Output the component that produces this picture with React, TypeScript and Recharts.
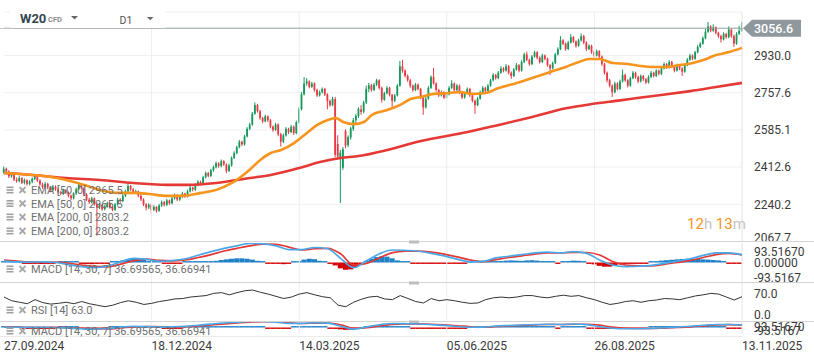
import React from 'react';
import { ComposedChart, Bar, Line, XAxis, YAxis, CartesianGrid, ReferenceLine } from 'recharts';

const FONT = 'Roboto, sans-serif';
const GREEN = '#14995a';
const RED = '#ea3943';

// Daily candles [open, high, low, close]
const ohlc: number[][] = [
[2390,2415,2382,2405],[2405,2410,2382,2392],[2392,2398,2362,2370],[2370,2390,2364,2378],[2378,2382,2348,2355],
[2355,2365,2340,2348],[2348,2372,2342,2362],[2362,2366,2334,2340],[2340,2360,2332,2352],[2352,2356,2326,2335],
[2335,2352,2328,2345],[2345,2365,2338,2358],[2358,2378,2352,2370],[2370,2374,2344,2350],[2350,2356,2326,2332],
[2332,2340,2312,2320],[2320,2344,2314,2335],[2335,2340,2310,2318],[2318,2324,2296,2305],[2305,2330,2300,2322],
[2322,2328,2302,2310],[2310,2316,2290,2298],[2298,2302,2282,2290],[2290,2312,2284,2305],[2305,2310,2288,2295],
[2295,2300,2272,2280],[2280,2286,2260,2268],[2268,2296,2262,2290],[2290,2318,2284,2310],[2310,2342,2305,2332],
[2332,2336,2308,2315],[2315,2320,2278,2285],[2285,2292,2255,2262],[2262,2270,2242,2250],[2250,2275,2244,2268],
[2268,2272,2234,2240],[2240,2248,2095,2225],[2225,2246,2218,2238],[2238,2242,2210,2218],[2218,2238,2212,2230],
[2230,2252,2224,2245],[2245,2250,2220,2228],[2228,2234,2208,2215],[2215,2246,2210,2240],[2240,2270,2234,2262],
[2262,2268,2248,2255],[2255,2288,2250,2280],[2280,2308,2274,2300],[2300,2338,2295,2325],[2325,2330,2302,2310],
[2310,2316,2288,2295],[2295,2308,2288,2300],[2300,2304,2272,2280],[2280,2286,2255,2262],[2262,2268,2232,2240],
[2240,2246,2212,2225],[2225,2245,2218,2238],[2238,2242,2195,2215],[2215,2236,2208,2228],[2228,2232,2202,2210],
[2210,2242,2205,2235],[2235,2258,2228,2250],[2250,2256,2230,2238],[2238,2265,2232,2258],[2258,2262,2238,2245],
[2245,2275,2240,2268],[2268,2290,2262,2282],[2282,2286,2255,2262],[2262,2282,2256,2275],[2275,2298,2270,2290],
[2290,2294,2270,2278],[2278,2308,2272,2300],[2300,2326,2295,2318],[2318,2322,2300,2308],[2308,2338,2302,2330],
[2330,2352,2324,2345],[2345,2350,2330,2338],[2338,2372,2332,2365],[2365,2392,2360,2385],[2385,2390,2365,2372],
[2372,2405,2366,2398],[2398,2420,2392,2412],[2412,2438,2406,2430],[2430,2435,2410,2418],[2418,2448,2412,2440],
[2440,2445,2418,2425],[2425,2430,2385,2395],[2395,2428,2390,2420],[2420,2462,2415,2455],[2455,2486,2450,2478],
[2478,2512,2472,2505],[2505,2538,2500,2530],[2530,2535,2510,2518],[2518,2562,2512,2555],[2555,2598,2550,2590],
[2590,2618,2584,2610],[2610,2668,2604,2660],[2660,2712,2655,2700],[2700,2706,2665,2672],[2672,2678,2632,2640],
[2640,2646,2616,2625],[2625,2656,2620,2648],[2648,2652,2622,2630],[2630,2636,2592,2600],[2600,2606,2576,2585],
[2585,2618,2580,2610],[2610,2615,2556,2565],[2565,2572,2508,2530],[2530,2568,2524,2560],[2560,2598,2554,2590],
[2590,2595,2566,2575],[2575,2608,2570,2600],[2600,2605,2562,2570],[2570,2628,2565,2620],[2620,2690,2615,2680],
[2680,2760,2675,2750],[2750,2830,2745,2800],[2800,2825,2790,2810],[2810,2815,2778,2785],[2785,2808,2780,2800],
[2800,2805,2762,2770],[2770,2776,2738,2745],[2745,2768,2740,2760],[2760,2782,2754,2775],[2775,2780,2742,2750],
[2750,2755,2680,2720],[2720,2726,2692,2700],[2700,2738,2695,2730],[2728,2738,2458,2470],[2520,2560,2450,2462],
[2455,2492,2246,2480],[2410,2506,2400,2495],[2580,2588,2500,2512],[2515,2560,2505,2552],[2550,2600,2540,2592],
[2590,2640,2580,2630],[2630,2660,2615,2650],[2650,2690,2640,2682],[2680,2700,2655,2668],[2670,2720,2662,2712],
[2712,2790,2705,2775],[2775,2803,2760,2792],[2792,2798,2762,2770],[2770,2802,2765,2795],[2795,2822,2788,2815],
[2815,2820,2772,2780],[2780,2786,2712,2725],[2725,2762,2720,2755],[2755,2788,2750,2780],[2780,2785,2740,2748],
[2748,2752,2690,2720],[2720,2752,2714,2745],[2745,2798,2740,2790],[2790,2905,2785,2880],[2880,2910,2850,2860],
[2860,2866,2828,2835],[2835,2842,2808,2815],[2815,2822,2780,2790],[2790,2796,2762,2770],[2770,2802,2765,2795],
[2795,2800,2768,2775],[2775,2780,2728,2735],[2735,2742,2655,2690],[2690,2738,2684,2730],[2730,2788,2725,2780],
[2780,2838,2775,2830],[2830,2872,2795,2800],[2800,2806,2762,2770],[2770,2776,2738,2745],[2745,2768,2740,2760],
[2760,2765,2728,2735],[2735,2758,2730,2750],[2750,2788,2745,2780],[2780,2815,2775,2800],[2800,2805,2762,2770],
[2770,2798,2765,2790],[2790,2795,2752,2760],[2760,2766,2728,2735],[2735,2762,2730,2755],[2755,2782,2750,2775],
[2775,2780,2738,2745],[2745,2750,2712,2720],[2720,2726,2660,2700],[2700,2738,2695,2730],[2730,2768,2725,2760],
[2760,2788,2755,2780],[2780,2785,2758,2765],[2765,2798,2760,2790],[2790,2822,2785,2815],[2815,2848,2810,2840],
[2840,2845,2818,2825],[2825,2858,2820,2850],[2850,2880,2845,2870],[2870,2876,2852,2860],[2860,2890,2855,2880],
[2880,2886,2842,2850],[2850,2856,2822,2835],[2835,2872,2830,2865],[2865,2895,2860,2885],[2885,2890,2852,2860],
[2860,2908,2855,2900],[2900,2942,2895,2935],[2935,2948,2904,2910],[2910,2915,2882,2890],[2890,2932,2885,2925],
[2925,2952,2920,2945],[2945,2950,2912,2920],[2920,2926,2892,2900],[2900,2938,2895,2930],[2930,2935,2908,2915],
[2915,2920,2878,2885],[2885,2890,2840,2870],[2870,2902,2865,2895],[2895,2942,2890,2935],[2935,2968,2930,2960],
[2960,3020,2955,3000],[3000,3006,2978,2985],[2985,2990,2952,2960],[2960,2998,2955,2990],[2990,3030,2985,3015],
[3015,3020,2988,2995],[2995,3000,2966,2975],[2975,3008,2970,3000],[3000,3032,2995,3020],[3020,3025,2982,2990],
[2990,2996,2950,2960],[2960,2982,2955,2975],[2975,2980,2938,2945],[2945,2952,2922,2930],[2930,2958,2925,2950],
[2950,2955,2918,2925],[2925,2930,2882,2890],[2890,2896,2842,2850],[2850,2856,2805,2815],[2815,2822,2782,2790],
[2790,2796,2738,2760],[2760,2808,2755,2800],[2800,2806,2768,2775],[2775,2818,2770,2810],[2810,2865,2805,2840],
[2840,2846,2808,2815],[2815,2820,2782,2790],[2790,2832,2785,2825],[2825,2858,2820,2850],[2850,2855,2822,2830],
[2830,2836,2802,2810],[2810,2842,2805,2835],[2835,2840,2812,2820],[2820,2826,2798,2805],[2805,2838,2800,2830],
[2830,2858,2825,2850],[2850,2855,2828,2835],[2835,2866,2830,2860],[2860,2865,2838,2845],[2845,2876,2840,2870],
[2870,2898,2865,2890],[2890,2895,2868,2875],[2875,2908,2870,2900],[2900,2905,2872,2880],[2880,2886,2852,2860],
[2860,2892,2855,2885],[2885,2890,2862,2870],[2870,2876,2835,2855],[2855,2892,2850,2885],[2885,2918,2880,2910],
[2910,2938,2905,2930],[2930,2935,2908,2915],[2915,2952,2910,2945],[2945,2978,2940,2970],[2970,2992,2965,2985],
[2985,3018,2980,3010],[3010,3055,3005,3040],[3040,3085,3035,3065],[3065,3070,3038,3045],[3045,3075,3040,3060],
[3060,3065,3028,3035],[3035,3040,3012,3020],[3020,3026,2990,3005],[3005,3038,3000,3030],[3030,3035,3008,3015],
[3015,3065,3010,3050],[3050,3055,3012,3020],[3020,3026,2970,2985],[2985,3038,2980,3030],[3030,3068,3025,3045],
[3045,3085,3040,3056.6]
];

// EMA lines [candle index, value]
const ema50Pts: number[][] = [[0,2385],[11,2376],[18,2367],[24,2353],[31,2330],[37,2307],[44,2293],[50,2293],[56,2288],[63,2279],[69,2279],[76,2293],[82,2307],[88,2339],[95,2402],[99,2446],[103,2478],[107,2492],[112,2524],[117,2571],[121,2608],[125,2631],[128,2640],[131,2622],[135,2612],[139,2622],[142,2654],[148,2677],[153,2701],[157,2728],[161,2738],[166,2752],[172,2756],[176,2761],[181,2752],[186,2756],[191,2779],[198,2803],[204,2826],[211,2854],[217,2877],[222,2900],[226,2914],[230,2914],[235,2895],[241,2891],[246,2881],[251,2877],[256,2877],[261,2886],[266,2895],[270,2909],[275,2932],[280,2946],[285,2965.5]];
const ema200Pts: number[][] = [[0,2385],[11,2376],[24,2362],[37,2353],[50,2339],[63,2330],[71,2330],[82,2339],[95,2362],[103,2376],[114,2408],[122,2436],[130,2455],[137,2464],[148,2492],[161,2534],[179,2575],[191,2608],[204,2645],[217,2685],[227,2705],[238,2722],[246,2735],[256,2750],[265,2765],[275,2784],[285,2803.2]];

// MACD (14,30,7)
const macdPts: number[][] = [[0,8],[5,3],[10,2],[15,3],[20,0],[25,-10],[30,-20],[35,-25],[40,-18],[45,3],[50,20],[55,15],[60,6],[65,9],[70,18],[75,35],[80,52],[85,68],[90,80],[95,92],[100,90],[105,80],[110,62],[115,62],[120,72],[125,66],[130,20],[135,-25],[140,8],[145,42],[150,60],[155,58],[160,54],[165,44],[170,32],[175,16],[180,3],[185,5],[190,22],[195,30],[200,38],[205,46],[210,50],[215,46],[220,52],[225,44],[230,12],[235,-12],[240,-20],[245,-18],[250,-14],[255,-4],[260,6],[265,18],[270,34],[275,46],[280,46],[285,36.7]];
const signalPts: number[][] = [[0,12],[5,7],[10,3],[15,2],[20,2],[25,-4],[30,-12],[35,-19],[40,-21],[45,-8],[50,8],[55,16],[60,10],[65,8],[70,12],[75,24],[80,38],[85,55],[90,68],[95,80],[100,88],[105,87],[110,74],[115,60],[120,66],[125,68],[130,42],[135,-12],[140,-4],[145,22],[150,47],[155,54],[160,55],[165,50],[170,40],[175,27],[180,12],[185,4],[190,14],[195,24],[200,32],[205,40],[210,46],[215,46],[220,48],[225,48],[230,36],[235,5],[240,-12],[245,-16],[250,-16],[255,-9],[260,0],[265,10],[270,24],[275,38],[280,44],[285,36.67]];
const histPts: number[][] = [[0,6],[2,7],[4,5],[6,3],[8,-4],[10,-5],[12,-4],[14,-3],[15,-3],[17,-4],[19,-3],[22,2],[24,3],[26,4],[28,2],[30,-5],[32,-7],[34,-8],[36,-6],[38,-3],[40,-2],[42,2],[44,4],[46,10],[48,16],[50,20],[52,18],[54,12],[56,5],[58,3],[60,2],[62,-2],[64,-3],[66,-5],[68,-4],[70,3],[72,3],[74,3],[76,5],[78,6],[80,6],[82,8],[84,12],[86,15],[88,18],[90,20],[92,20],[94,18],[96,14],[98,8],[100,3],[102,-2],[104,-3],[106,-6],[108,-8],[110,-5],[112,3],[114,6],[116,14],[118,18],[120,16],[122,8],[124,3],[126,-5],[128,-14],[130,-28],[132,-35],[134,-33],[136,-22],[138,-8],[140,8],[142,18],[144,26],[146,30],[148,28],[150,20],[152,10],[154,4],[156,2],[158,-3],[160,-5],[162,-6],[164,-6],[166,-5],[168,-6],[170,-5],[172,-3],[174,-3],[176,-4],[178,-3],[180,3],[182,4],[184,3],[186,4],[188,3],[190,4],[192,7],[194,9],[196,10],[198,9],[200,8],[202,10],[204,11],[206,9],[208,6],[210,4],[212,3],[214,-4],[216,4],[218,7],[220,9],[222,8],[224,5],[226,-3],[228,-9],[230,-16],[232,-20],[234,-20],[236,-15],[238,-8],[240,-4],[242,-5],[244,-3],[246,-3],[248,-2],[250,3],[252,6],[254,9],[256,11],[258,13],[260,15],[262,17],[264,18],[266,18],[268,17],[270,15],[272,14],[274,12],[276,10],[278,6],[280,-2],[282,-3],[284,-2]];

// RSI (14)
const rsiPts: number[][] = [[0,62],[3,52],[6,48],[9,44],[12,55],[15,47],[18,43],[21,45],[24,48],[27,44],[30,50],[33,44],[36,40],[39,36],[42,40],[45,47],[48,52],[51,48],[54,42],[57,45],[60,50],[63,53],[66,57],[69,58],[72,62],[75,64],[78,66],[81,72],[84,74],[87,68],[90,74],[93,79],[96,81],[99,75],[102,70],[105,64],[108,58],[111,62],[114,70],[117,74],[120,68],[123,63],[126,60],[129,40],[132,36],[135,48],[138,56],[141,62],[144,64],[147,57],[150,55],[153,66],[156,58],[159,50],[162,46],[165,58],[168,52],[171,55],[174,52],[177,48],[180,45],[183,46],[186,55],[189,60],[192,62],[195,60],[198,62],[201,66],[204,66],[207,62],[210,60],[213,64],[216,67],[219,64],[222,66],[225,60],[228,55],[231,48],[234,42],[237,45],[240,50],[243,52],[246,48],[249,52],[252,54],[255,58],[258,57],[261,55],[264,60],[267,65],[270,68],[273,72],[276,70],[279,62],[282,54],[285,63]];

const dateIdx = [0, 57, 114, 171, 228, 285];
const dateLabels = ['27.09.2024', '18.12.2024', '14.03.2025', '05.06.2025', '26.08.2025', '13.11.2025'];
const gridIdx = [57, 114, 171, 228, 285];
const priceTicks = [2067.7, 2240.2, 2412.6, 2585.1, 2757.6, 2930.0];
const lastPrice = 3056.6;
const macdBound = 93.5167;

const candleRows = ohlc.map((d, i) => ({ i, o: d[0], h: d[1], l: d[2], c: d[3], range: [d[2], d[1]] }));
const toRows = (pts: number[][]) => pts.map(([i, v]) => ({ i, v }));
const ema50Rows = toRows(ema50Pts);
const ema200Rows = toRows(ema200Pts);
const macdRows = toRows(macdPts);
const signalRows = toRows(signalPts);
const histRows = toRows(histPts);
const rsiRows = toRows(rsiPts);

const Candle = (props: any) => {
  const { x, y, width, height, payload } = props;
  if (!payload || x == null) return null;
  const { o, h, l, c } = payload;
  const top = Math.min(y, y + height);
  const hh = Math.abs(height);
  const k = h - l === 0 ? 0 : hh / (h - l);
  const cx = x + width / 2;
  const color = c >= o ? GREEN : RED;
  const bTop = top + (h - Math.max(o, c)) * k;
  const bH = Math.max(1, Math.abs(o - c) * k);
  return (
    <g>
      <line x1={cx} x2={cx} y1={top} y2={top + hh} stroke={color} strokeWidth={1} />
      <rect x={cx - 0.9} y={bTop} width={1.8} height={bH} fill={color} />
    </g>
  );
};

const HistBar = (props: any) => {
  const { x, y, width, height, payload } = props;
  if (!payload || x == null) return null;
  const cx = x + width / 2;
  const top = Math.min(y, y + height);
  let hh = Math.abs(height);
  const pos = payload.v >= 0;
  let t = top;
  if (hh < 1.4) { if (pos) t = top + hh - 1.4; hh = 1.4; }
  return <rect x={cx - 2.6} y={t} width={5.2} height={hh} fill={pos ? '#1f80c6' : '#d50000'} />;
};

const axisText = (x: number, y: number, text: string, dy = 0) => (
  <text x={x + 12} y={y + dy} dy="0.36em" textAnchor="start" fontSize={12} fill="#3a3a3a" fontFamily={FONT}>{text}</text>
);

const PriceTick = (p: any) => axisText(p.x, p.y, Number(p.payload.value).toFixed(1), p.payload.value < 2100 ? -4 : 0);

const MacdTick = (p: any) => {
  const v = p.payload.value;
  const text = v > 0 ? '93.51670' : v < 0 ? '-93.5167' : '0.00000';
  return axisText(p.x, p.y, text, v > 0 ? 8.5 : v < 0 ? -4.5 : 0);
};
const MacdTick2 = (p: any) => {
  const v = p.payload.value;
  const text = v > 0 ? '93.51670' : '-93.5167';
  return axisText(p.x, p.y, text, v > 0 ? 5 : -3);
};
const RsiTick = (p: any) => {
  const v = p.payload.value;
  return axisText(p.x, p.y, v.toFixed(1), v === 0 ? -5 : 0);
};
const DateTick = (p: any) => {
  const k = dateIdx.indexOf(p.payload.value);
  return (
    <text x={p.x} y={p.y + 16} textAnchor="start" fontSize={12} fill="#3a3a3a" fontFamily={FONT}>{dateLabels[k]}</text>
  );
};

const PriceTag = (props: any) => {
  const vb = props.viewBox || {};
  const x = (vb.x || 0) + (vb.width || 0);
  const y = vb.y || 0;
  return (
    <g>
      <polygon points={`${x + 1},${y} ${x + 10},${y - 8.5} ${x + 59},${y - 8.5} ${x + 59},${y + 8.5} ${x + 10},${y + 8.5}`} fill="#8e989d" />
      <text x={x + 12} y={y} dy="0.36em" fill="#ffffff" fontSize={12.5} fontWeight={500} fontFamily={FONT}>{lastPrice.toFixed(1)}</text>
    </g>
  );
};

const vGrid = (panel: string) => gridIdx.map((g) => (
  <ReferenceLine key={panel + g} x={g} stroke={g === 285 ? '#e4e4e4' : '#eeeeee'} />
));

const LegendRow = ({ y, text }: { y: number; text: string }) => (
  <g>
    <rect x={6.5} y={y - 3.5} width={7} height={1.6} fill="#a0a0a0" />
    <rect x={6.5} y={y - 0.8} width={7} height={1.6} fill="#a0a0a0" />
    <rect x={6.5} y={y + 1.9} width={7} height={1.6} fill="#a0a0a0" />
    <line x1={19.5} y1={y - 3} x2={25.5} y2={y + 3} stroke="#a8a8a8" strokeWidth={1.8} />
    <line x1={25.5} y1={y - 3} x2={19.5} y2={y + 3} stroke="#a8a8a8" strokeWidth={1.8} />
    <text x={31} y={y + 4} fontSize={11} fill="#707070" fontFamily={FONT}>{text}</text>
  </g>
);

export default function App() {
  return (
    <div style={{ position: 'absolute', left: 0, top: 0, width: 814, height: 362, background: '#ffffff', overflow: 'hidden', fontFamily: FONT }}>
      <div style={{ position: 'absolute', left: 0, top: 0 }}>
        <ComposedChart width={814} height={242} data={candleRows} margin={{ top: 12, right: 0, bottom: 0.5, left: 4 }}>
          <CartesianGrid vertical={false} stroke="#f0f0f0" />
          <XAxis type="number" dataKey="i" domain={[0, 285]} hide />
          <YAxis orientation="right" width={72} type="number" domain={[2067.7, 3131.7]} ticks={priceTicks} interval={0}
            allowDataOverflow axisLine={false} tickLine={false} tickSize={0} tickMargin={0} tick={PriceTick} />
          {vGrid('m')}
          <Bar dataKey="range" barSize={2} shape={Candle} isAnimationActive={false} />
          <Line data={ema200Rows} dataKey="v" type="monotone" stroke="#e53935" strokeWidth={2.6} dot={false} isAnimationActive={false} />
          <Line data={ema50Rows} dataKey="v" type="monotone" stroke="#f7941d" strokeWidth={2.6} dot={false} isAnimationActive={false} />
          <ReferenceLine y={lastPrice} stroke="#939da2" strokeWidth={1} label={PriceTag} />
        </ComposedChart>
      </div>

      <div style={{ position: 'absolute', left: 0, top: 242 }}>
        <ComposedChart width={814} height={40} data={histRows} margin={{ top: 1, right: 0, bottom: 0, left: 4 }}>
          <XAxis type="number" dataKey="i" domain={[0, 285]} hide />
          <YAxis orientation="right" width={72} type="number" domain={[-macdBound, macdBound]} ticks={[macdBound, 0, -macdBound]} interval={0}
            allowDataOverflow axisLine={false} tickLine={false} tickSize={0} tickMargin={0} tick={MacdTick} />
          {vGrid('a')}
          <Bar dataKey="v" barSize={2} shape={HistBar} isAnimationActive={false} />
          <Line data={signalRows} dataKey="v" type="monotone" stroke="#e53935" strokeWidth={1.7} dot={false} isAnimationActive={false} />
          <Line data={macdRows} dataKey="v" type="monotone" stroke="#4aa8e8" strokeWidth={1.7} dot={false} isAnimationActive={false} />
        </ComposedChart>
      </div>

      <div style={{ position: 'absolute', left: 0, top: 282 }}>
        <ComposedChart width={814} height={38} data={rsiRows} margin={{ top: 1, right: 0, bottom: 0, left: 4 }}>
          <XAxis type="number" dataKey="i" domain={[0, 285]} hide />
          <YAxis orientation="right" width={72} type="number" domain={[0, 100]} ticks={[70, 0]} interval={0}
            allowDataOverflow axisLine={false} tickLine={false} tickSize={0} tickMargin={0} tick={RsiTick} />
          {vGrid('r')}
          <Line dataKey="v" type="linear" stroke="#333333" strokeWidth={1} dot={false} isAnimationActive={false} />
        </ComposedChart>
      </div>

      <div style={{ position: 'absolute', left: 0, top: 321 }}>
        <ComposedChart width={814} height={41} data={histRows} margin={{ top: 0, right: 0, bottom: 0, left: 4 }}>
          <XAxis type="number" dataKey="i" domain={[0, 285]} ticks={dateIdx} interval={0} height={28}
            axisLine={false} tickLine={false} tickSize={0} tickMargin={0} tick={DateTick} />
          <YAxis orientation="right" width={72} type="number" domain={[-macdBound * 1.05, macdBound * 1.05]} ticks={[macdBound, -macdBound]} interval={0}
            allowDataOverflow axisLine={false} tickLine={false} tickSize={0} tickMargin={0} tick={MacdTick2} />
          {vGrid('b')}
          <Bar dataKey="v" barSize={2} shape={HistBar} isAnimationActive={false} />
          <Line data={signalRows} dataKey="v" type="monotone" stroke="#e53935" strokeWidth={1.6} dot={false} isAnimationActive={false} />
          <Line data={macdRows} dataKey="v" type="monotone" stroke="#4aa8e8" strokeWidth={1.6} dot={false} isAnimationActive={false} />
        </ComposedChart>
      </div>

      <svg width={814} height={362} style={{ position: 'absolute', left: 0, top: 0, pointerEvents: 'none' }}>
        <rect x={10} y={0} width={155} height={28} fill="#ffffff" />
        <line x1={0} y1={28.5} x2={10} y2={28.5} stroke="#c8c8c8" strokeWidth={1} />
        <text x={20} y={23} fontSize={13} fontWeight={700} fill="#37474f" fontFamily={FONT}>W20</text>
        <text x={48} y={21.5} fontSize={7.5} fontWeight={700} fill="#8a8a8a" fontFamily={FONT}>CFD</text>
        <polygon points="71,16 78,16 74.5,19.5" fill="#666666" />
        <text x={119.5} y={24} fontSize={10.5} fill="#555555" fontFamily={FONT}>D1</text>
        <polygon points="147,17 153.5,17 150.25,20.2" fill="#666666" />

        <LegendRow y={190} text="EMA [50, 0] 2965.5" />
        <LegendRow y={203.5} text="EMA [50, 0] 2965.5" />
        <LegendRow y={217} text="EMA [200, 0] 2803.2" />
        <LegendRow y={231} text="EMA [200, 0] 2803.2" />

        <text x={687} y={228.5} fontSize={15} fontFamily={FONT}>
          <tspan fill="#f7931e">12</tspan><tspan fill="#c4c4c4">h</tspan><tspan fill="#f7931e"> 13</tspan><tspan fill="#c4c4c4">m</tspan>
        </text>

        <line x1={0} y1={241.5} x2={814} y2={241.5} stroke="#d4d4d4" strokeWidth={1} />
        <line x1={0} y1={282.5} x2={814} y2={282.5} stroke="#d4d4d4" strokeWidth={1} />
        <line x1={0} y1={321.5} x2={814} y2={321.5} stroke="#d4d4d4" strokeWidth={1} />
        <line x1={0} y1={336.5} x2={742} y2={336.5} stroke="#ebebeb" strokeWidth={1} />
        <rect x={409} y={240.5} width={10} height={3} fill="#bdbdbd" />
        <rect x={409} y={281.5} width={10} height={3} fill="#bdbdbd" />
        <rect x={409} y={320.5} width={10} height={2.5} fill="#bdbdbd" />

        <LegendRow y={269} text="MACD [14, 30, 7] 36.69565,  36.66941" />
        <LegendRow y={310} text="RSI [14] 63.0" />
        <LegendRow y={331} text="MACD [14, 30, 7] 36.69565,  36.66941" />
      </svg>
    </div>
  );
}
